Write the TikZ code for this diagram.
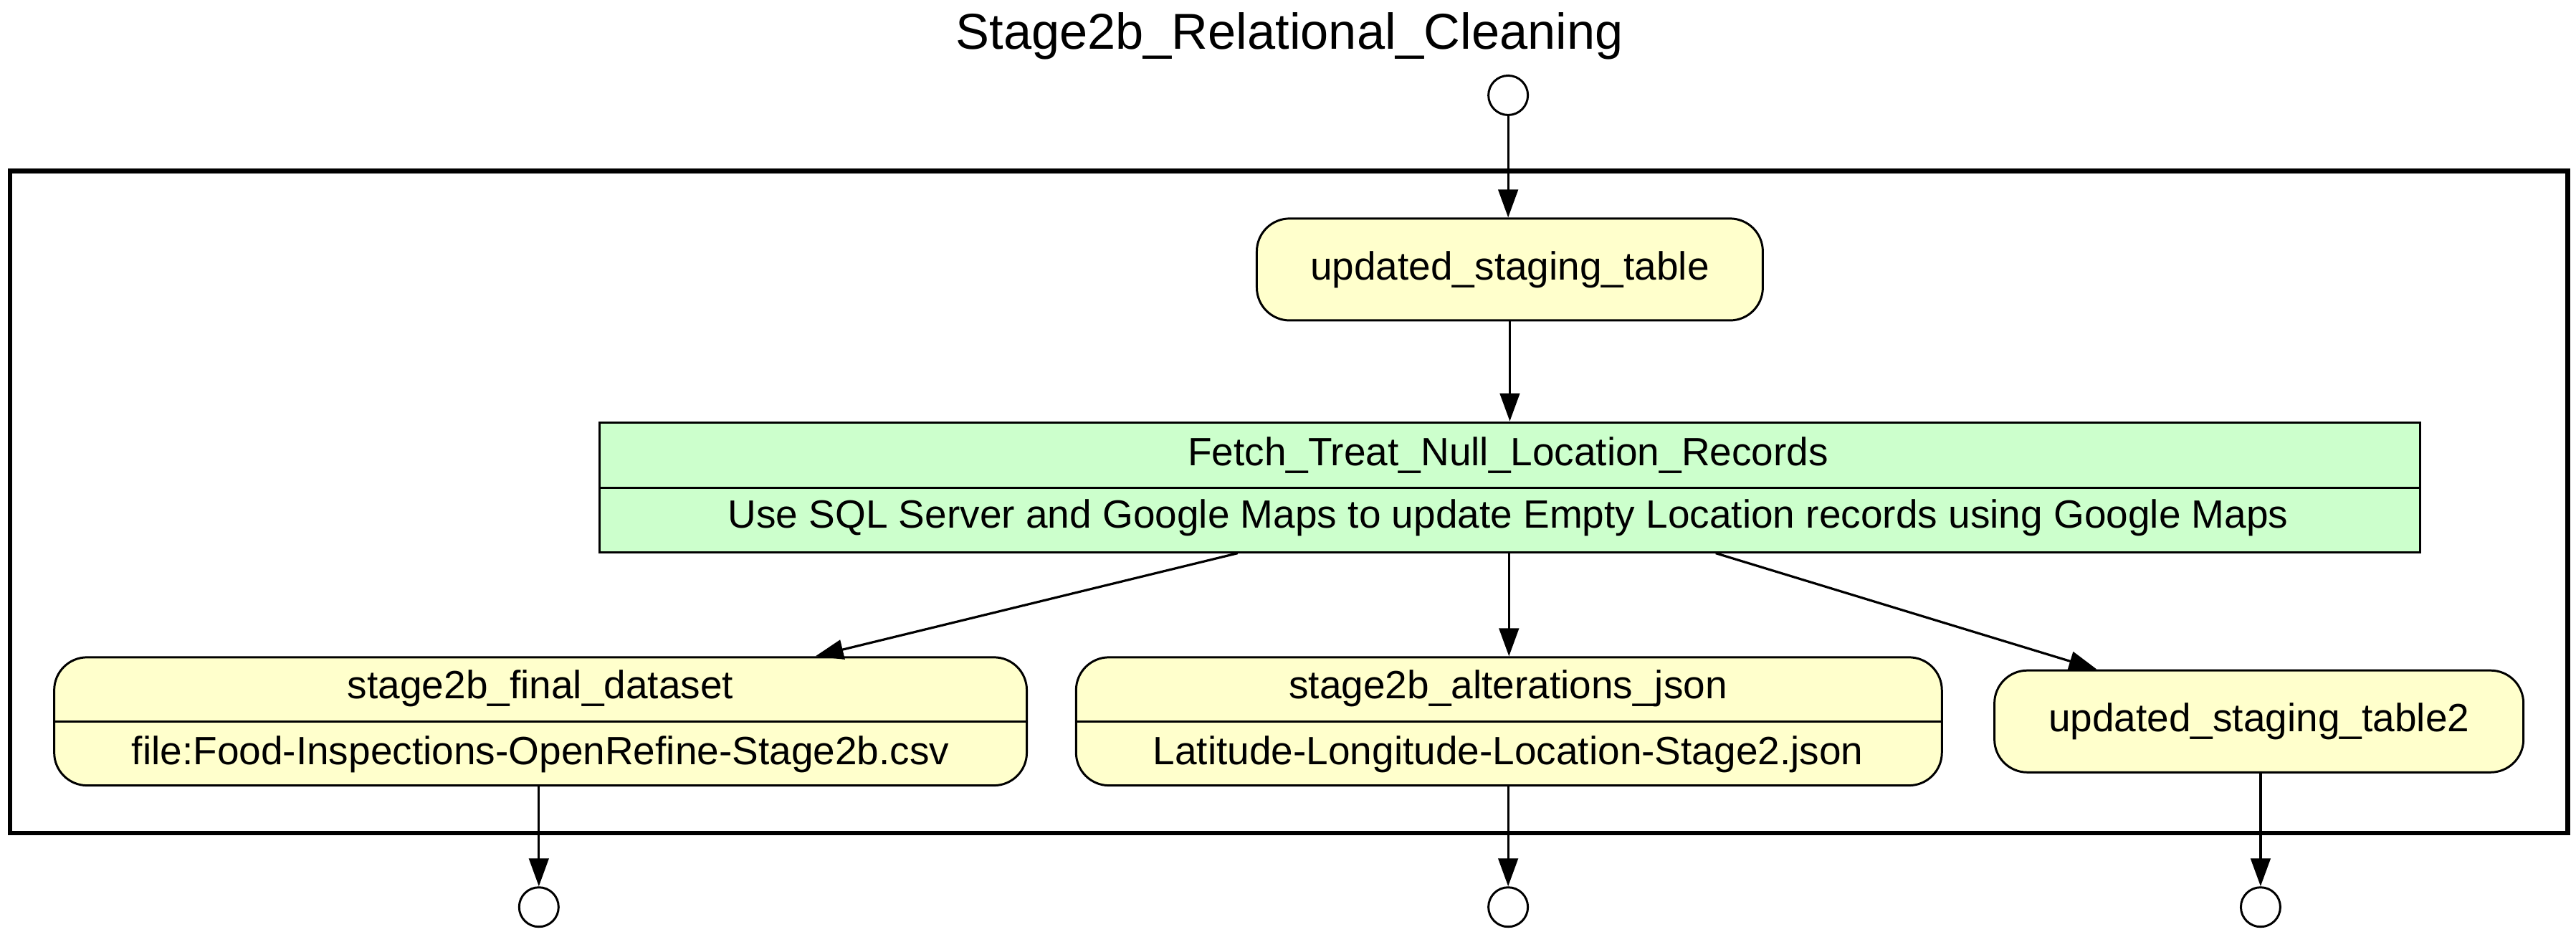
\documentclass[tikz,border=0pt]{standalone}
\usepackage{fontspec}
\setmainfont{Liberation Sans}
\usetikzlibrary{arrows.meta,calc}
\definecolor{dataY}{HTML}{FFFFCC}
\definecolor{procG}{HTML}{CCFFCC}
\begin{document}
\begin{tikzpicture}[x=1pt,y=-1pt,
  every node/.style={font=\fontsize{24}{28}\selectfont, inner sep=0pt},
  databox/.style={draw, line width=1.3pt, fill=dataY, rounded corners=20pt},
  procbox/.style={draw, line width=1.3pt, fill=procG},
  port/.style={draw, circle, line width=1.3pt, minimum size=24pt, fill=white},
  flow/.style={line width=1.4pt, -{Triangle[length=17pt,width=12pt]}}
]
\useasboundingbox (0,0) rectangle (1568,570);
% title
\node (title) at (785,22) {\fontsize{30.7}{34}\selectfont Stage2b\_Relational\_Cleaning};
% outer frame
\node (frame) [draw, line width=2.8pt, minimum width=1557pt, minimum height=403pt] at (784.5,305.5) {};
% ports
\node (pin) [port] at (918,58) {};
\node (pout1) [port] at (328,552) {};
\node (pout2) [port] at (918,552) {};
\node (pout3) [port] at (1376,552) {};
% updated_staging_table
\node (uts) [databox, minimum width=308pt, minimum height=62pt] at (919,164) {updated\_staging\_table};
% process
\node (fetch) [procbox, minimum width=1108pt, minimum height=79pt] at (919,296.5) {};
\draw[line width=1.3pt] (fetch.west |- 0,297) -- (fetch.east |- 0,297);
\node (fetchT) at (918,277) {Fetch\_Treat\_Null\_Location\_Records};
\node (fetchD) at (918,315) {Use SQL Server and Google Maps to update Empty Location records using Google Maps};
% final dataset
\node (final) [databox, minimum width=592pt, minimum height=78pt] at (329,439) {};
\draw[line width=1.3pt] (final.west |- 0,439) -- (final.east |- 0,439);
\node (finalT) at (329,419) {stage2b\_final\_dataset};
\node (finalD) at (329,459) {file:Food-Inspections-OpenRefine-Stage2b.csv};
% alterations json
\node (alt) [databox, minimum width=527pt, minimum height=78pt] at (918.5,439) {};
\draw[line width=1.3pt] (alt.west |- 0,439) -- (alt.east |- 0,439);
\node (altT) at (918,419) {stage2b\_alterations\_json};
\node (altD) at (918,459) {Latitude-Longitude-Location-Stage2.json};
% updated_staging_table2
\node (uts2) [databox, minimum width=322pt, minimum height=62pt] at (1375,439) {updated\_staging\_table2};
% edges
\draw[flow] (pin) -- (uts.north -| pin);
\draw[flow] (uts.south -| fetch.north) -- (fetch.north);
\draw[flow] ([xshift=389pt]fetch.south west) -- ([xshift=464pt]final.north west);
\draw[flow] (fetch.south -| alt.north) -- (alt.north);
\draw[flow] ([xshift=680pt]fetch.south west) -- ([xshift=63pt]uts2.north west);
\draw[flow] (final.south -| pout1) -- (pout1);
\draw[flow] (alt.south -| pout2) -- (pout2);
\draw[flow] (uts2.south -| pout3) -- (pout3);
\end{tikzpicture}
\end{document}
